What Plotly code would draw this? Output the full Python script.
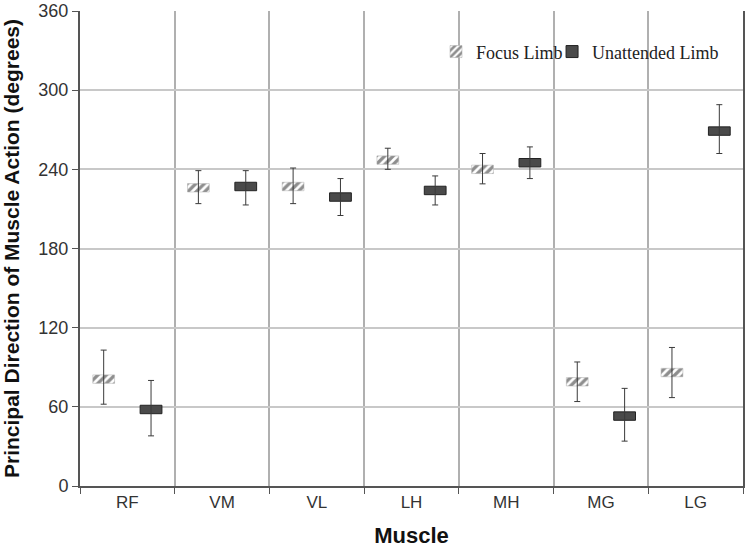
import plotly.graph_objects as go

muscles = ["RF", "VM", "VL", "LH", "MH", "MG", "LG"]
focus_mean = [81, 226, 227, 247, 240, 79, 86]
focus_upper = [103, 239, 241, 256, 252, 94, 105]
focus_lower = [62, 214, 214, 240, 229, 64, 67]
unatt_mean = [58, 227, 219, 224, 245, 53, 269]
unatt_upper = [80, 239, 233, 235, 257, 74, 289]
unatt_lower = [38, 213, 205, 213, 233, 34, 252]

half_h = 3.2
pos = list(range(len(muscles)))
fx = [p - 0.25 for p in pos]
ux = [p + 0.25 for p in pos]

fig = go.Figure()
fig.add_trace(go.Bar(
    x=fx, y=[2 * half_h] * len(pos), base=[m - half_h for m in focus_mean],
    width=0.23, name="Focus Limb", legend="legend",
    marker=dict(color="#ffffff", line=dict(color="#aaaaaa", width=0.5),
                pattern=dict(shape="/", fgcolor="#1e1e1e", bgcolor="#ffffff", size=6, solidity=0.55)),
))
fig.add_trace(go.Bar(
    x=ux, y=[2 * half_h] * len(pos), base=[m - half_h for m in unatt_mean],
    width=0.23, name="Unattended Limb", legend="legend2",
    marker=dict(color="#4a4a4a", line=dict(color="#222222", width=1)),
))
fig.add_trace(go.Scatter(
    x=fx, y=focus_mean, mode="markers", marker=dict(opacity=0), showlegend=False,
    error_y=dict(type="data", symmetric=False,
                 array=[u - m for u, m in zip(focus_upper, focus_mean)],
                 arrayminus=[m - l for m, l in zip(focus_mean, focus_lower)],
                 color="#3a3a3a", thickness=1, width=3),
))
fig.add_trace(go.Scatter(
    x=ux, y=unatt_mean, mode="markers", marker=dict(opacity=0), showlegend=False,
    error_y=dict(type="data", symmetric=False,
                 array=[u - m for u, m in zip(unatt_upper, unatt_mean)],
                 arrayminus=[m - l for m, l in zip(unatt_mean, unatt_lower)],
                 color="#3a3a3a", thickness=1, width=3),
))

legend_font = dict(family="Liberation Serif", size=18, color="#222222")
fig.update_layout(
    width=750, height=549,
    margin=dict(l=80, r=7, t=11, b=63, autoexpand=False),
    plot_bgcolor="white", paper_bgcolor="white",
    barmode="overlay",
    showlegend=True,
    legend=dict(x=0.537, y=0.914, xanchor="left", yanchor="middle",
                font=legend_font, bgcolor="rgba(0,0,0,0)"),
    legend2=dict(x=0.712, y=0.914, xanchor="left", yanchor="middle",
                 font=legend_font, bgcolor="rgba(0,0,0,0)"),
    xaxis=dict(
        range=[-0.5, 6.5], tickmode="array", tickvals=pos, ticktext=muscles,
        showgrid=False, ticks="", showline=True, linecolor="#555555", linewidth=2,
        tickfont=dict(family="Liberation Sans", size=17, color="#333333"),
        title=dict(text="<b>Muscle</b>", font=dict(family="Liberation Sans", size=22, color="#111111"), standoff=16),
        minor=dict(tick0=0.5, dtick=1, showgrid=True, gridcolor="#b0b0b0", gridwidth=1.5,
                   ticks="outside", ticklen=6, tickcolor="#555555"),
        zeroline=False, automargin=False,
    ),
    yaxis=dict(
        range=[0, 360], tickvals=[0, 60, 120, 180, 240, 300, 360],
        showgrid=True, gridcolor="#c8c8c8", gridwidth=1.5,
        showline=True, linecolor="#555555", linewidth=2, mirror=True,
        ticks="outside", ticklen=6, tickcolor="#555555",
        tickfont=dict(family="Liberation Sans", size=18, color="#333333"),
        title=dict(text="<b>Principal Direction of Muscle Action (degrees)</b>",
                   font=dict(family="Liberation Sans", size=21, color="#111111"), standoff=18),
        zeroline=False, automargin=False, ticklabeloverflow="allow",
    ),
)

fig.write_html("out.html", config={"displayModeBar": False},
               post_script="document.body.style.margin='0';")
